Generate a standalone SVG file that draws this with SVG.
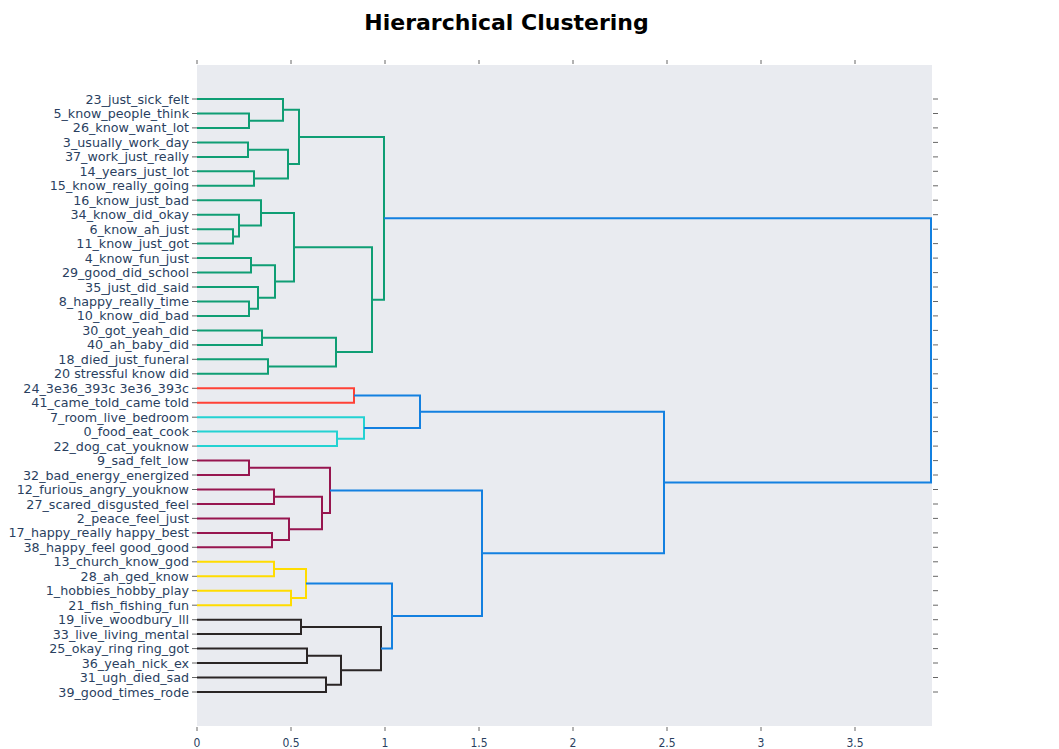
<svg xmlns="http://www.w3.org/2000/svg" width="1059" height="749" viewBox="0 0 1059 749">
<style>
.title{font-family:"DejaVu Sans",Verdana,sans-serif;font-weight:bold;font-size:22px;fill:#000;text-anchor:middle}
.lbl{font-family:"DejaVu Sans",Verdana,sans-serif;font-size:12.7px;fill:#2a3f5f;text-anchor:end}
.xl{font-family:"DejaVu Sans Condensed","DejaVu Sans",sans-serif;font-size:12px;fill:#2a3f5f;text-anchor:middle}
.tick{stroke:#666;stroke-width:1}
.lk{fill:none;stroke-width:2}
.g{stroke:#0f9e74}.r{stroke:#ff4136}.c{stroke:#23d2d2}.m{stroke:#97154f}.y{stroke:#ffdc00}.k{stroke:#2a2525}.b{stroke:#1380e0}
</style>
<rect width="1059" height="749" fill="#fff"/>
<text class="title" x="506.5" y="30">Hierarchical Clustering</text>
<rect x="197" y="65" width="735" height="661" fill="#e9ebf0"/>
<g id="axes">
<path class="tick" d="M197 60V64M291 60V64M385 60V64M479 60V64M573 60V64M667 60V64M761 60V64M855 60V64M197 727V731M291 727V731M385 727V731M479 727V731M573 727V731M667 727V731M761 727V731M855 727V731"/>
<text class="xl" x="197" y="747">0</text>
<text class="xl" x="291" y="747">0.5</text>
<text class="xl" x="385" y="747">1</text>
<text class="xl" x="479" y="747">1.5</text>
<text class="xl" x="573" y="747">2</text>
<text class="xl" x="667" y="747">2.5</text>
<text class="xl" x="761" y="747">3</text>
<text class="xl" x="855" y="747">3.5</text>
<path class="tick" d="M192 99H197M192 113.5H197M192 127.9H197M192 142.4H197M192 156.9H197M192 171.3H197M192 185.8H197M192 200.2H197M192 214.7H197M192 229.2H197M192 243.6H197M192 258.1H197M192 272.6H197M192 287H197M192 301.5H197M192 315.9H197M192 330.4H197M192 344.9H197M192 359.3H197M192 373.8H197M192 388.3H197M192 402.7H197M192 417.2H197M192 431.6H197M192 446.1H197M192 460.6H197M192 475H197M192 489.5H197M192 504H197M192 518.4H197M192 532.9H197M192 547.3H197M192 561.8H197M192 576.3H197M192 590.7H197M192 605.2H197M192 619.7H197M192 634.1H197M192 648.6H197M192 663H197M192 677.5H197M192 692H197"/>
<path class="tick" d="M933 99H938M933 113.5H938M933 127.9H938M933 142.4H938M933 156.9H938M933 171.3H938M933 185.8H938M933 200.2H938M933 214.7H938M933 229.2H938M933 243.6H938M933 258.1H938M933 272.6H938M933 287H938M933 301.5H938M933 315.9H938M933 330.4H938M933 344.9H938M933 359.3H938M933 373.8H938M933 388.3H938M933 402.7H938M933 417.2H938M933 431.6H938M933 446.1H938M933 460.6H938M933 475H938M933 489.5H938M933 504H938M933 518.4H938M933 532.9H938M933 547.3H938M933 561.8H938M933 576.3H938M933 590.7H938M933 605.2H938M933 619.7H938M933 634.1H938M933 648.6H938M933 663H938M933 677.5H938M933 692H938"/>
</g>
<g id="connectors">
<path class="lk g" d="M197 113.5H249V127.9H197"/>
<path class="lk g" d="M197 99H283V120.7H249"/>
<path class="lk g" d="M197 142.4H248V156.9H197"/>
<path class="lk g" d="M197 171.3H254V185.8H197"/>
<path class="lk g" d="M248 149.65H288V178.55H254"/>
<path class="lk g" d="M283 109.85H299V164.1H288"/>
<path class="lk g" d="M197 229.2H233V243.6H197"/>
<path class="lk g" d="M197 214.7H239V236.4H233"/>
<path class="lk g" d="M197 200.2H261V225.55H239"/>
<path class="lk g" d="M197 258.1H251V272.6H197"/>
<path class="lk g" d="M197 301.5H249V315.9H197"/>
<path class="lk g" d="M197 287H258V308.7H249"/>
<path class="lk g" d="M251 265.35H275V297.85H258"/>
<path class="lk g" d="M261 212.9H294V281.6H275"/>
<path class="lk g" d="M197 330.4H262V344.9H197"/>
<path class="lk g" d="M197 359.3H268V373.8H197"/>
<path class="lk g" d="M262 337.65H336V366.55H268"/>
<path class="lk g" d="M294 247.25H372V352.1H336"/>
<path class="lk g" d="M299 136.98H384V299.7H372"/>
<path class="lk r" d="M197 388.3H354V402.7H197"/>
<path class="lk c" d="M197 431.6H337V446.1H197"/>
<path class="lk c" d="M197 417.2H364V438.85H337"/>
<path class="lk b" d="M354 395.5H420V428H364"/>
<path class="lk m" d="M197 460.6H249V475H197"/>
<path class="lk m" d="M197 489.5H274V504H197"/>
<path class="lk m" d="M197 532.9H272V547.3H197"/>
<path class="lk m" d="M197 518.4H289V540.1H272"/>
<path class="lk m" d="M274 496.75H322V529.25H289"/>
<path class="lk m" d="M249 467.8H330V513H322"/>
<path class="lk y" d="M197 561.8H274V576.3H197"/>
<path class="lk y" d="M197 590.7H291V605.2H197"/>
<path class="lk y" d="M274 569.05H306V597.95H291"/>
<path class="lk k" d="M197 619.7H301V634.1H197"/>
<path class="lk k" d="M197 648.6H307V663H197"/>
<path class="lk k" d="M197 677.5H326V692H197"/>
<path class="lk k" d="M307 655.8H341V684.75H326"/>
<path class="lk k" d="M301 626.9H381V670.3H341"/>
<path class="lk b" d="M306 583.5H392V648.6H381"/>
<path class="lk b" d="M330 490.4H482V616.05H392"/>
<path class="lk b" d="M420 411.75H664V553.2H482"/>
<path class="lk b" d="M384 218.3H931V482.5H664"/>
</g>
<g id="leaf-23"><text class="lbl" x="189" y="103.5">23_just_sick_felt</text></g>
<g id="leaf-5"><text class="lbl" x="189" y="118">5_know_people_think</text></g>
<g id="leaf-26"><text class="lbl" x="189" y="132.4">26_know_want_lot</text></g>
<g id="leaf-3"><text class="lbl" x="189" y="146.9">3_usually_work_day</text></g>
<g id="leaf-37"><text class="lbl" x="189" y="161.4">37_work_just_really</text></g>
<g id="leaf-14"><text class="lbl" x="189" y="175.8">14_years_just_lot</text></g>
<g id="leaf-15"><text class="lbl" x="189" y="190.3">15_know_really_going</text></g>
<g id="leaf-16"><text class="lbl" x="189" y="204.7">16_know_just_bad</text></g>
<g id="leaf-34"><text class="lbl" x="189" y="219.2">34_know_did_okay</text></g>
<g id="leaf-6"><text class="lbl" x="189" y="233.7">6_know_ah_just</text></g>
<g id="leaf-11"><text class="lbl" x="189" y="248.1">11_know_just_got</text></g>
<g id="leaf-4"><text class="lbl" x="189" y="262.6">4_know_fun_just</text></g>
<g id="leaf-29"><text class="lbl" x="189" y="277.1">29_good_did_school</text></g>
<g id="leaf-35"><text class="lbl" x="189" y="291.5">35_just_did_said</text></g>
<g id="leaf-8"><text class="lbl" x="189" y="306">8_happy_really_time</text></g>
<g id="leaf-10"><text class="lbl" x="189" y="320.4">10_know_did_bad</text></g>
<g id="leaf-30"><text class="lbl" x="189" y="334.9">30_got_yeah_did</text></g>
<g id="leaf-40"><text class="lbl" x="189" y="349.4">40_ah_baby_did</text></g>
<g id="leaf-18"><text class="lbl" x="189" y="363.8">18_died_just_funeral</text></g>
<g id="leaf-20"><text class="lbl" x="189" y="378.3">20 stressful know did</text></g>
<g id="leaf-24"><text class="lbl" x="189" y="392.8">24_3e36_393c 3e36_393c</text></g>
<g id="leaf-41"><text class="lbl" x="189" y="407.2">41_came_told_came told</text></g>
<g id="leaf-7"><text class="lbl" x="189" y="421.7">7_room_live_bedroom</text></g>
<g id="leaf-0"><text class="lbl" x="189" y="436.1">0_food_eat_cook</text></g>
<g id="leaf-22"><text class="lbl" x="189" y="450.6">22_dog_cat_youknow</text></g>
<g id="leaf-9"><text class="lbl" x="189" y="465.1">9_sad_felt_low</text></g>
<g id="leaf-32"><text class="lbl" x="189" y="479.5">32_bad_energy_energized</text></g>
<g id="leaf-12"><text class="lbl" x="189" y="494">12_furious_angry_youknow</text></g>
<g id="leaf-27"><text class="lbl" x="189" y="508.5">27_scared_disgusted_feel</text></g>
<g id="leaf-2"><text class="lbl" x="189" y="522.9">2_peace_feel_just</text></g>
<g id="leaf-17"><text class="lbl" x="189" y="537.4">17_happy_really happy_best</text></g>
<g id="leaf-38"><text class="lbl" x="189" y="551.8">38_happy_feel good_good</text></g>
<g id="leaf-13"><text class="lbl" x="189" y="566.3">13_church_know_god</text></g>
<g id="leaf-28"><text class="lbl" x="189" y="580.8">28_ah_ged_know</text></g>
<g id="leaf-1"><text class="lbl" x="189" y="595.2">1_hobbies_hobby_play</text></g>
<g id="leaf-21"><text class="lbl" x="189" y="609.7">21_fish_fishing_fun</text></g>
<g id="leaf-19"><text class="lbl" x="189" y="624.2">19_live_woodbury_lll</text></g>
<g id="leaf-33"><text class="lbl" x="189" y="638.6">33_live_living_mental</text></g>
<g id="leaf-25"><text class="lbl" x="189" y="653.1">25_okay_ring ring_got</text></g>
<g id="leaf-36"><text class="lbl" x="189" y="667.5">36_yeah_nick_ex</text></g>
<g id="leaf-31"><text class="lbl" x="189" y="682">31_ugh_died_sad</text></g>
<g id="leaf-39"><text class="lbl" x="189" y="696.5">39_good_times_rode</text></g>
</svg>
